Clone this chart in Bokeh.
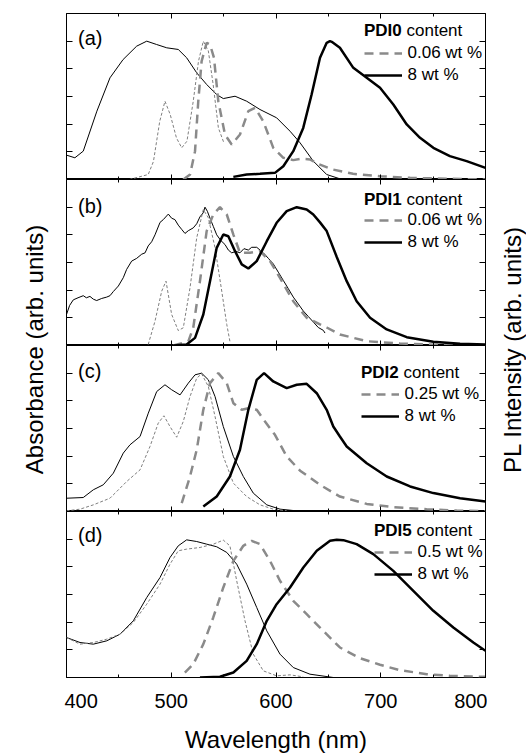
from math import pi
from bokeh.plotting import figure
from bokeh.layouts import row, column
from bokeh.models import (LinearAxis, FixedTicker, SingleIntervalTicker, Range1d,
                          Label, Legend, LegendItem, CustomJSTickFormatter)
from bokeh.embed import file_html
from bokeh.resources import INLINE

FONT = "Liberation Sans"

# ---------------- data ----------------
X_RANGE = (400, 800)
Y_RANGE = (0, 1.2)
Y_TICKS = [0, 0.2, 0.4, 0.6, 0.8, 1.0]
panel_tags = ["(a)", "(b)", "(c)", "(d)"]
compounds = ["PDI0", "PDI1", "PDI2", "PDI5"]
dilute_labels = ["0.06 wt %", "0.06 wt %", "0.25 wt %", "0.5 wt %"]
conc_label = "8 wt %"
x_title = "Wavelength (nm)"
left_title = "Absorbance (arb. units)"
right_title = "PL Intensity (arb. units)"

# panel (a) PDI0
a_abs_conc_x = [400, 408, 416, 429, 441.5, 454, 467, 476.6, 486, 495.7, 506.7, 514.7, 524.3, 533.8, 543.4,
                549.7, 560.9, 572, 584.7, 600.6, 613.4, 623, 635.6, 648.4, 661, 670]
a_abs_conc_y = [0.176, 0.157, 0.205, 0.494, 0.735, 0.867, 0.964, 1.0, 0.976, 0.952, 0.94, 0.88, 0.771, 0.687, 0.614,
                0.585, 0.602, 0.566, 0.506, 0.446, 0.349, 0.265, 0.133, 0.036, 0.005, 0.0]
a_abs_dil_x = [460, 478, 483, 489, 494, 499, 505, 510, 515, 521, 526, 530.6, 535.4, 540, 545, 550.5]
a_abs_dil_y = [0, 0.036, 0.13, 0.42, 0.566, 0.47, 0.30, 0.229, 0.277, 0.566, 0.855, 1.0, 0.93, 0.687, 0.373, 0.26]
a_pl_dil_x = [511.5, 518, 522.7, 525.8, 529, 533.8, 537, 540.8, 544.9, 551.3, 557.7, 565.6, 573.6, 580, 587.9,
              597.4, 607, 616.5, 624, 632.4, 641, 654.4, 673.5, 699, 728, 766, 800]
a_pl_dil_y = [0, 0.036, 0.205, 0.566, 0.855, 0.988, 0.976, 0.88, 0.566, 0.325, 0.253, 0.325, 0.494, 0.518, 0.42,
              0.229, 0.157, 0.14, 0.15, 0.145, 0.11, 0.072, 0.041, 0.024, 0.012, 0.005, 0.0]
a_pl_conc_x = [559.3, 572, 584.7, 599, 607, 616.5, 626, 634, 642, 648.4, 651.5, 653.2, 661, 673.8, 686.6, 699.3,
               712, 724.8, 737.5, 750.2, 766, 782, 800]
a_pl_conc_y = [0.019, 0.036, 0.041, 0.048, 0.096, 0.205, 0.373, 0.614, 0.88, 0.988, 1.0, 0.995, 0.952, 0.807, 0.735,
               0.663, 0.542, 0.398, 0.301, 0.229, 0.169, 0.133, 0.084]

# panel (b) PDI1
b_abs_conc_x = [400, 403, 406.5, 411, 416, 419, 422.4, 425.6, 428.8, 433.6, 438.4, 441.5, 444.7, 449.5, 454.2,
                457.4, 462.2, 467, 471.8, 475, 478, 481.3, 484.5, 489.3, 492.4, 497.2, 500.4, 503.5, 506.7, 509.9,
                513.1, 516.3, 521, 524.3, 527.4, 530.6, 532.2, 534.5, 537, 540.2, 543.4, 547.2, 551.3, 554.5, 557.7,
                561.8, 565.6, 569.4, 573.6, 576.8, 581.6, 584.7, 587.9, 592.7, 597.4, 602.2, 607, 611.8, 616.5,
                621.3, 626, 630.8, 635.6, 640.4, 645.1, 646.8]
b_abs_conc_y = [0.224, 0.29, 0.33, 0.345, 0.36, 0.345, 0.355, 0.335, 0.325, 0.34, 0.35, 0.36, 0.39, 0.43, 0.49,
                0.55, 0.61, 0.63, 0.66, 0.67, 0.72, 0.75, 0.80, 0.89, 0.91, 0.95, 0.92, 0.91, 0.87, 0.84,
                0.81, 0.83, 0.85, 0.88, 0.93, 0.96, 1.0, 0.97, 0.92, 0.86, 0.80, 0.76, 0.73, 0.69, 0.67,
                0.68, 0.67, 0.70, 0.69, 0.71, 0.71, 0.69, 0.67, 0.63, 0.59, 0.53, 0.47, 0.41, 0.35,
                0.30, 0.25, 0.21, 0.17, 0.13, 0.11, 0.09]
b_abs_dil_x = [478, 484.5, 490.9, 495, 500.4, 506.7, 511.5, 517.9, 524.3, 530.6, 535.4, 541.8, 548.2, 553, 556]
b_abs_dil_y = [0.007, 0.176, 0.393, 0.465, 0.224, 0.108, 0.128, 0.417, 0.778, 0.983, 0.923, 0.706, 0.393, 0.152, 0.03]
b_pl_dil_x = [502, 516.3, 521, 527.4, 533.8, 540.1, 546.5, 553, 559.3, 565.6, 575.2, 584.7, 594.3, 603.8, 616.5,
              629.3, 642, 648.4, 661, 686.6, 718.4, 756.6, 800]
b_pl_dil_y = [0, 0.03, 0.128, 0.465, 0.827, 0.947, 1.0, 0.947, 0.802, 0.67, 0.67, 0.682, 0.61, 0.489, 0.32,
              0.2, 0.152, 0.13, 0.08, 0.031, 0.014, 0.005, 0.002]
b_pl_conc_x = [502, 514.7, 522.7, 530.6, 537, 543.4, 549.7, 554.5, 560.9, 567.3, 573.6, 581.6, 591.2, 600.6, 610.2,
               619.8, 629.3, 635.6, 642, 648.4, 658, 667.5, 677, 689.8, 705.7, 724.8, 750.2, 775.7, 800]
b_pl_conc_y = [0, 0.007, 0.055, 0.224, 0.465, 0.706, 0.802, 0.79, 0.682, 0.586, 0.557, 0.61, 0.754, 0.887, 0.971,
               1.0, 0.983, 0.947, 0.89, 0.827, 0.64, 0.465, 0.32, 0.2, 0.116, 0.06, 0.027, 0.012, 0.007]

# panel (c) PDI2
c_abs_conc_x = [400, 416, 425.6, 435.1, 444.7, 454.2, 460.6, 470.2, 478.1, 486.1, 494, 500.4, 508.4, 516.3, 522.7,
                529, 535.4, 541.8, 549.7, 559.3, 568.8, 578.3, 591.2, 603.8, 623, 640]
c_abs_conc_y = [0.096, 0.101, 0.157, 0.193, 0.277, 0.422, 0.482, 0.542, 0.711, 0.867, 0.916, 0.88, 0.843, 0.928, 0.988,
                1.0, 0.952, 0.831, 0.614, 0.398, 0.253, 0.133, 0.048, 0.017, 0.002, 0]
c_abs_dil_x = [400, 413, 425.6, 441.5, 457.5, 470.2, 479.7, 487.6, 493, 498.8, 505.2, 511.5, 517.9, 524.3, 529,
               535.4, 541.8, 549.7, 559.3, 572, 584.7, 597.4, 610.2]
c_abs_dil_y = [0.005, 0.017, 0.048, 0.096, 0.217, 0.301, 0.47, 0.639, 0.692, 0.614, 0.537, 0.651, 0.831, 0.964, 0.995,
               0.904, 0.687, 0.398, 0.205, 0.108, 0.048, 0.017, 0.005]
c_pl_dil_x = [510, 517.9, 524.3, 530.6, 537, 544.9, 553, 559.3, 567.3, 573.6, 581.6, 589.5, 599, 610.2, 623, 642,
              661, 686.6, 712, 743.9, 772.5, 800]
c_pl_dil_y = [0.06, 0.253, 0.446, 0.735, 0.928, 1.0, 0.928, 0.783, 0.735, 0.747, 0.735, 0.651, 0.554, 0.398, 0.295,
              0.193, 0.108, 0.055, 0.031, 0.017, 0.007, 0.002]
c_pl_conc_x = [530.6, 543.4, 556, 565.6, 573.6, 581.6, 588.6, 597.4, 610.2, 619.8, 629.3, 638.9, 648.4, 654.7, 661,
               667.5, 686.6, 705.7, 728, 750.2, 775.7, 800]
c_pl_conc_y = [0.036, 0.108, 0.253, 0.446, 0.735, 0.952, 1.0, 0.94, 0.892, 0.916, 0.923, 0.855, 0.735, 0.614, 0.542,
               0.47, 0.349, 0.253, 0.181, 0.133, 0.096, 0.072]

# panel (d) PDI5
d_abs_conc_x = [400, 412.9, 425.6, 438.4, 451.1, 463.8, 476.6, 489.3, 498.8, 506.7, 514.7, 524.3, 533.8, 543.4, 553,
                562.5, 572, 581.6, 591.2, 603.8, 616.5, 632.4, 654.7]
d_abs_conc_y = [0.289, 0.253, 0.241, 0.265, 0.313, 0.41, 0.578, 0.723, 0.867, 0.952, 0.995, 0.983, 0.964, 0.945, 0.904,
                0.819, 0.675, 0.506, 0.337, 0.169, 0.072, 0.024, 0]
d_abs_dil_x = [400, 412.9, 425.6, 438.4, 451.1, 463.8, 476.6, 489.3, 498.8, 506.7, 514.7, 527.5, 540.2, 549.7, 556,
               562.5, 570.4, 578.3, 587.9, 600.6, 613.4, 626]
d_abs_dil_y = [0.289, 0.241, 0.253, 0.277, 0.313, 0.398, 0.53, 0.675, 0.819, 0.916, 0.928, 0.94, 0.964, 0.993, 0.952,
               0.699, 0.41, 0.169, 0.048, 0.012, 0.019, 0.005]
d_pl_dil_x = [513, 521, 530.6, 540.1, 549.7, 559.3, 568.8, 576.8, 584.7, 594.3, 603.8, 616.5, 629.3, 642, 661, 680,
              699.3, 718.4, 743.9, 766, 800]
d_pl_dil_y = [0.036, 0.096, 0.241, 0.434, 0.651, 0.843, 0.952, 0.988, 0.964, 0.843, 0.699, 0.554, 0.458, 0.361, 0.217,
              0.14, 0.092, 0.053, 0.024, 0.012, 0.005]
d_pl_conc_x = [527.4, 546.5, 559.3, 572, 581.6, 591.2, 600.6, 613.4, 626.1, 638.9, 651.6, 658, 664.3, 677, 692.9,
               712, 731.1, 750.2, 769.3, 788.4, 800]
d_pl_conc_y = [0, 0.005, 0.036, 0.12, 0.241, 0.41, 0.53, 0.651, 0.795, 0.916, 0.988, 0.995, 0.993, 0.964, 0.892,
               0.771, 0.627, 0.482, 0.361, 0.253, 0.193]

panels = [
    (a_abs_conc_x, a_abs_conc_y, a_abs_dil_x, a_abs_dil_y, a_pl_dil_x, a_pl_dil_y, a_pl_conc_x, a_pl_conc_y),
    (b_abs_conc_x, b_abs_conc_y, b_abs_dil_x, b_abs_dil_y, b_pl_dil_x, b_pl_dil_y, b_pl_conc_x, b_pl_conc_y),
    (c_abs_conc_x, c_abs_conc_y, c_abs_dil_x, c_abs_dil_y, c_pl_dil_x, c_pl_dil_y, c_pl_conc_x, c_pl_conc_y),
    (d_abs_conc_x, d_abs_conc_y, d_abs_dil_x, d_abs_dil_y, d_pl_dil_x, d_pl_dil_y, d_pl_conc_x, d_pl_conc_y),
]

# ---------------- layout / style ----------------
FRAME_W, FRAME_H = 419, 166
LEFT_W, RIGHT_W = 64, 39
TOP_PAD = 13
TITLE_H = 745
PX_PER_NM = FRAME_W / (X_RANGE[1] - X_RANGE[0])
PX_PER_Y = FRAME_H / (Y_RANGE[1] - Y_RANGE[0])

# legend placement: (left x from frame, title centre below top, first row top below top)
LEG_POS = [(297.5, 17, 30), (297.5, 19.5, 31), (294.5, 26.7, 38.5), (307.5, 18.5, 30.5)]
TAG_OFF = [24, 26, 25.5, 23.5]


def nm_at(px):
    return X_RANGE[0] + px / PX_PER_NM


def y_below_top(off):
    return Y_RANGE[1] - off / PX_PER_Y


def x_axis(labels):
    ax = LinearAxis(ticker=SingleIntervalTicker(interval=100, num_minor_ticks=2),
                    major_tick_in=5, major_tick_out=0, minor_tick_in=3, minor_tick_out=0,
                    axis_line_color=None, major_tick_line_color="black", minor_tick_line_color="black")
    if labels:
        ax.major_label_text_font = FONT
        ax.major_label_text_font_size = "20px"
        ax.major_label_text_color = "black"
        ax.major_label_standoff = 16
        ax.axis_label = x_title
        ax.axis_label_text_font = FONT
        ax.axis_label_text_font_size = "24px"
        ax.axis_label_text_font_style = "normal"
        ax.axis_label_text_color = "black"
        ax.axis_label_standoff = 15
    else:
        ax.formatter = CustomJSTickFormatter(code="return ''")
        ax.major_label_text_font_size = "0px"
        ax.major_label_standoff = 0
    return ax


def y_axis():
    ax = LinearAxis(ticker=FixedTicker(ticks=Y_TICKS, minor_ticks=[]),
                    major_tick_in=6, major_tick_out=0, minor_tick_in=0, minor_tick_out=0,
                    axis_line_color=None, major_tick_line_color="black")
    ax.formatter = CustomJSTickFormatter(code="return ''")
    ax.major_label_text_font_size = "0px"
    ax.major_label_standoff = 0
    return ax


figs = []
for i, (acx, acy, adx, ady, pdx, pdy, pcx, pcy) in enumerate(panels):
    last = i == 3
    p = figure(frame_width=FRAME_W, frame_height=FRAME_H,
               x_range=Range1d(*X_RANGE), y_range=Range1d(*Y_RANGE),
               x_axis_location=None, y_axis_location=None,
               output_backend="svg", toolbar_location=None,
               min_border_left=2, min_border_right=2,
               min_border_top=TOP_PAD if i == 0 else 0,
               min_border_bottom=0)
    p.outline_line_color = "black"
    p.outline_line_width = 1
    p.background_fill_color = "white"
    p.border_fill_color = "white"
    p.grid.visible = False

    p.add_layout(x_axis(False), "above")
    p.add_layout(x_axis(last), "below")
    p.add_layout(y_axis(), "left")
    p.add_layout(y_axis(), "right")

    p.line(acx, acy, line_color="black", line_width=1)
    p.line(adx, ady, line_color="#7f7f7f", line_width=1, line_dash="3 2")
    r_dil = p.line(pdx, pdy, line_color="#8a8a8a", line_width=2.5, line_dash="9 6")
    r_conc = p.line(pcx, pcy, line_color="black", line_width=2.5)

    lx, toff, rtop = LEG_POS[i]
    leg = Legend(items=[LegendItem(label=dilute_labels[i], renderers=[r_dil]),
                        LegendItem(label=conc_label, renderers=[r_conc])],
                 location=(lx, FRAME_H - rtop - 42), orientation="vertical",
                 background_fill_alpha=0, border_line_color=None,
                 padding=0, margin=0, spacing=2,
                 glyph_width=38, glyph_height=20, label_height=20, label_standoff=6,
                 label_text_font=FONT, label_text_font_size="17px", label_text_color="black")
    p.add_layout(leg)

    p.add_layout(Label(x=nm_at(lx), y=y_below_top(toff), text=compounds[i],
                       text_font=FONT, text_font_size="17px", text_font_style="bold",
                       text_baseline="middle", text_align="left", text_color="black"))
    p.add_layout(Label(x=nm_at(lx + 42.5), y=y_below_top(toff), text="content",
                       text_font=FONT, text_font_size="17px",
                       text_baseline="middle", text_align="left", text_color="black"))
    p.add_layout(Label(x=nm_at(11.5), y=y_below_top(TAG_OFF[i]), text=panel_tags[i],
                       text_font=FONT, text_font_size="20px",
                       text_baseline="middle", text_align="left", text_color="black"))
    figs.append(p)


def title_fig(width, text, cx):
    f = figure(frame_width=width, frame_height=TITLE_H,
               x_range=Range1d(0, width), y_range=Range1d(0, TITLE_H),
               x_axis_location=None, y_axis_location=None,
               output_backend="svg", toolbar_location=None, min_border=0)
    f.outline_line_color = None
    f.grid.visible = False
    f.add_layout(Label(x=cx, y=TITLE_H - 349, text=text, angle=pi / 2,
                       text_font=FONT, text_font_size="24px",
                       text_align="center", text_baseline="middle", text_color="black"))
    return f


left = title_fig(LEFT_W, left_title, 34)
right = title_fig(RIGHT_W, right_title, 25)

layout = row(left, column(*figs, spacing=0), right, spacing=0)
open("out.html", "w").write(file_html(layout, INLINE))
